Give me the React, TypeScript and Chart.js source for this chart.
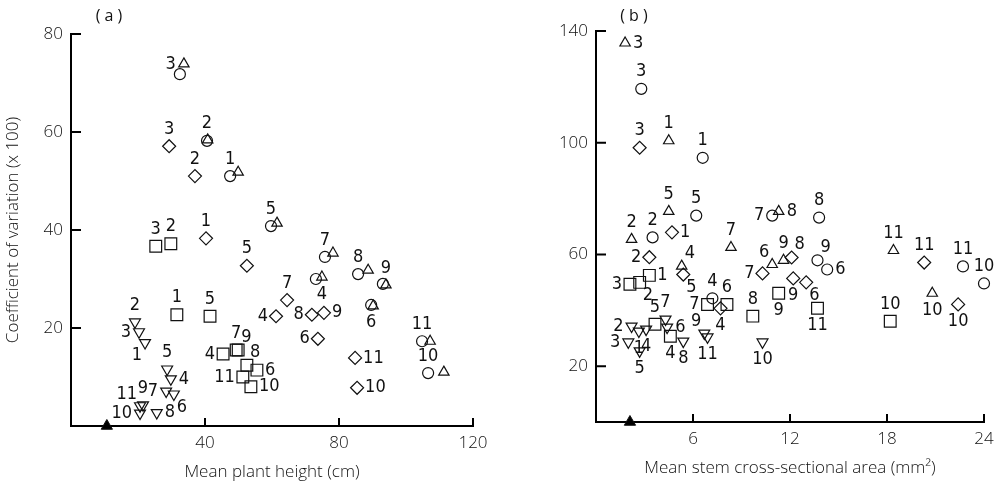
import React, { useEffect, useRef } from 'react';
import { Chart, registerables } from 'chart.js';

Chart.register(...registerables);

// Population numbers (1..11) used as point labels
const IDS = ['1', '2', '3', '4', '5', '6', '7', '8', '9', '10', '11'];

// ---------- Panel (a): coefficient of variation vs mean plant height ----------
const A_CIRCLE_X = [47.5, 40.6, 32.5, 73.1, 59.7, 89.6, 75.8, 85.7, 93.1, 106.6, 104.8];
const A_CIRCLE_Y = [51.0, 58.2, 71.8, 30.0, 40.8, 24.7, 34.5, 31.0, 29.0, 10.8, 17.3];
const A_CIRCLE_POS = ['a', 'a', '', '', 'a', 'b', 'a', 'a', '', 'a', 'a'];

const A_TRI_X = [49.9, 40.8, 33.7, 74.9, 61.5, 90.2, 78.2, 88.7, 94.0, 111.3, 107.2];
const A_TRI_Y = [51.8, 58.4, 73.9, 30.4, 41.4, 24.5, 35.3, 31.8, 28.8, 11.0, 17.3];
const A_TRI_POS = ['', '', 'l', 'b', '', '', '', '', 'a', '', ''];

const A_DIAM_X = [40.3, 37.0, 29.3, 61.2, 52.5, 73.7, 64.5, 71.9, 75.5, 85.4, 84.8];
const A_DIAM_Y = [38.3, 51.0, 57.1, 22.4, 32.7, 17.8, 25.7, 22.7, 23.1, 7.8, 13.9];
const A_DIAM_POS = ['a', 'a', 'a', 'l', 'a', 'l', 'a', 'l', 'r', 'r', 'r'];

const A_SQ_X = [31.6, 29.8, 25.3, 45.4, 41.5, 55.5, 49.3, 52.5, 49.9, 53.7, 51.3];
const A_SQ_Y = [22.7, 37.2, 36.7, 14.7, 22.4, 11.4, 15.5, 12.4, 15.5, 8.0, 10.0];
const A_SQ_POS = ['a', 'a', 'a', 'l', 'a', 'r', 'a', 'ar', 'ar', 'r', 'l'];

const A_INV_X = [22.1, 19.1, 20.3, 29.8, 28.7, 30.7, 28.4, 25.6, 21.5, 20.6, 20.6];
const A_INV_Y = [17.0, 21.2, 19.2, 9.6, 11.6, 6.5, 7.1, 2.7, 4.3, 2.6, 4.1];
const A_INV_POS = ['bl', 'a', 'l', 'r', 'a', 'br', 'l', 'r', 'a', 'l', 'al'];

const A_MARK_X = [10.7];
const A_MARK_Y = [0];

const A_X_TICKS = [40, 80, 120];
const A_Y_TICKS = [20, 40, 60, 80];

// ---------- Panel (b): coefficient of variation vs stem cross-sectional area ----------
const B_CIRCLE_X = [6.6, 3.5, 2.8, 7.2, 6.2, 14.3, 10.9, 13.8, 13.7, 24.0, 22.7];
const B_CIRCLE_Y = [94.6, 66.1, 119.3, 44.3, 73.9, 54.6, 73.9, 73.2, 57.9, 49.6, 55.7];
const B_CIRCLE_POS = ['a', 'a', 'a', 'a', 'a', 'r', 'l', 'a', 'ar', 'a', 'a'];

const B_TRI_X = [4.5, 2.2, 1.8, 5.3, 4.5, 10.9, 8.35, 11.3, 11.6, 20.8, 18.4];
const B_TRI_Y = [100.7, 65.4, 135.7, 55.8, 75.4, 56.4, 62.5, 75.4, 57.9, 46.1, 61.4];
const B_TRI_POS = ['a', 'a', 'r', 'ar', 'a', 'al', 'a', 'r', 'a', 'b', 'a'];

const B_DIAM_X = [4.7, 3.3, 2.7, 7.7, 5.4, 13.0, 10.3, 12.1, 12.2, 22.4, 20.3];
const B_DIAM_Y = [67.9, 59.0, 98.2, 40.7, 52.8, 50.0, 53.2, 58.9, 51.4, 42.1, 57.1];
const B_DIAM_POS = ['r', 'l', 'a', 'b', 'br', 'br', 'l', 'ar', 'b', 'b', 'a'];

const B_SQ_X = [3.3, 2.7, 2.1, 4.6, 3.65, 8.1, 6.9, 9.7, 11.3, 18.2, 13.7];
const B_SQ_Y = [52.5, 50.0, 49.3, 30.7, 35.0, 42.1, 42.1, 37.9, 46.1, 36.1, 40.7];
const B_SQ_POS = ['r', 'br', 'l', 'b', 'a', 'a', 'l', 'a', 'b', 'a', 'b'];

const B_INV_X = [2.65, 2.2, 2.0, 3.1, 2.7, 4.4, 4.3, 5.4, 6.7, 10.3, 6.9];
const B_INV_Y = [32.5, 34.3, 28.6, 33.2, 25.4, 33.9, 36.8, 28.9, 31.8, 28.6, 30.4];
const B_INV_POS = ['b', 'l', 'l', 'b', 'b', 'r', 'a', 'b', 'al', 'b', 'b'];

const B_MARK_X = [2.1];
const B_MARK_Y = [0];

const B_X_TICKS = [6, 12, 18, 24];
const B_Y_TICKS = [20, 60, 100, 140];

const LABEL_FONT = '18px "Liberation Sans Narrow", "DejaVu Sans Condensed", "Liberation Sans", sans-serif';
const AXIS_FAMILY = '"Open Sans", "DejaVu Sans", sans-serif';

type Shape = 'circle' | 'tri' | 'diam' | 'sq' | 'inv' | 'mark';

function makeSet(xs: number[], ys: number[], pos: string[] | null, shape: Shape) {
  const style: any = {
    circle: { pointStyle: 'circle', pointRadius: 5.5, pointRotation: 0 },
    tri: { pointStyle: 'triangle', pointRadius: 6, pointRotation: 0 },
    diam: { pointStyle: 'rectRot', pointRadius: 6.5, pointRotation: 0 },
    sq: { pointStyle: 'rect', pointRadius: 8.3, pointRotation: 0 },
    inv: { pointStyle: 'triangle', pointRadius: 6.3, pointRotation: 180 },
    mark: { pointStyle: 'triangle', pointRadius: 6.5, pointRotation: 0 },
  }[shape];
  return {
    data: xs.map((x, i) => ({ x, y: ys[i] })),
    ...style,
    showLine: false,
    clip: false,
    borderColor: '#111',
    borderWidth: shape === 'mark' ? 1 : 1.2,
    backgroundColor: shape === 'mark' ? '#000' : 'rgba(0,0,0,0)',
    labelPos: pos,
  };
}

const pointLabels = {
  id: 'pointLabels',
  afterDatasetsDraw(chart: any) {
    const ctx = chart.ctx;
    ctx.save();
    ctx.font = LABEL_FONT;
    ctx.fillStyle = '#111';
    ctx.textBaseline = 'middle';
    chart.data.datasets.forEach((ds: any, di: number) => {
      const pos: string[] | null = ds.labelPos;
      if (!pos) return;
      const meta = chart.getDatasetMeta(di);
      meta.data.forEach((el: any, i: number) => {
        const p = pos[i];
        if (!p) return;
        const t = IDS[i];
        let x = el.x;
        let y = el.y;
        let align: CanvasTextAlign = 'center';
        if (p === 'a') { y -= 17; }
        else if (p === 'b') { y += 17; }
        else if (p === 'l') { x -= 8; align = 'right'; }
        else if (p === 'r') { x += 8; align = 'left'; }
        else if (p === 'al') { x -= 3; y -= 12; align = 'right'; }
        else if (p === 'ar') { x += 3; y -= 13; align = 'left'; }
        else if (p === 'bl') { x -= 3; y += 13; align = 'right'; }
        else if (p === 'br') { x += 3; y += 13; align = 'left'; }
        ctx.textAlign = align;
        ctx.fillText(t, x, y);
      });
    });
    ctx.restore();
  },
};

const inwardTicks = {
  id: 'inwardTicks',
  afterDraw(chart: any, _args: any, opts: any) {
    const { ctx, chartArea } = chart;
    const xs = chart.scales.x;
    const ys = chart.scales.y;
    ctx.save();
    ctx.strokeStyle = '#000';
    ctx.lineWidth = 2;
    ctx.beginPath();
    xs.ticks.forEach((t: any) => {
      const px = xs.getPixelForValue(t.value);
      ctx.moveTo(px, chartArea.bottom);
      ctx.lineTo(px, chartArea.bottom - 8);
    });
    ys.ticks.forEach((t: any) => {
      const py = ys.getPixelForValue(t.value);
      ctx.moveTo(chartArea.left, py);
      ctx.lineTo(chartArea.left + 10, py);
    });
    ctx.stroke();
    if (opts && opts.text) {
      ctx.fillStyle = '#111';
      ctx.font = '16px ' + AXIS_FAMILY;
      ctx.textAlign = 'center';
      ctx.textBaseline = 'middle';
      ctx.fillText(opts.text, chartArea.left + 38, 16);
    }
    ctx.restore();
  },
};

function buildConfig(p: {
  sets: any[];
  xMax: number;
  yMax: number;
  xTicks: number[];
  yTicks: number[];
  xTitle: string;
  yTitle: string | null;
  yWidth: number;
  xHeight: number;
  padTop: number;
  padRight: number;
  xTitlePad: number;
  tag: string;
}) {
  return {
    type: 'scatter',
    data: { datasets: p.sets },
    plugins: [pointLabels, inwardTicks],
    options: {
      responsive: false,
      animation: false,
      events: [],
      devicePixelRatio: 1,
      layout: { padding: { top: p.padTop, right: p.padRight, left: 0, bottom: 0 } },
      plugins: {
        legend: { display: false },
        tooltip: { enabled: false },
        inwardTicks: { text: p.tag },
      },
      scales: {
        x: {
          type: 'linear',
          min: 0,
          max: p.xMax,
          afterBuildTicks: (s: any) => { s.ticks = p.xTicks.map((v) => ({ value: v })); },
          afterFit: (s: any) => { s.height = p.xHeight; },
          grid: { display: false, drawTicks: false },
          border: { display: true, color: '#000', width: 2 },
          ticks: { color: '#111', padding: 7, font: { family: AXIS_FAMILY, size: 17, weight: '300' } },
          title: {
            display: true,
            text: p.xTitle,
            color: '#111',
            padding: { top: 0, bottom: p.xTitlePad },
            font: { family: AXIS_FAMILY, size: 17, weight: '300' },
          },
        },
        y: {
          type: 'linear',
          min: 0,
          max: p.yMax,
          afterBuildTicks: (s: any) => { s.ticks = p.yTicks.map((v) => ({ value: v })); },
          afterFit: (s: any) => { s.width = p.yWidth; },
          grid: { display: false, drawTicks: false },
          border: { display: true, color: '#000', width: 2 },
          ticks: { color: '#111', padding: 8, font: { family: AXIS_FAMILY, size: 17, weight: '300' } },
          title: {
            display: !!p.yTitle,
            text: p.yTitle || '',
            color: '#111',
            padding: { top: 3, bottom: 0 },
            font: { family: AXIS_FAMILY, size: 17, weight: '300' },
          },
        },
      },
    },
  } as any;
}

export default function App() {
  const refA = useRef<HTMLCanvasElement | null>(null);
  const refB = useRef<HTMLCanvasElement | null>(null);

  useEffect(() => {
    const chartA = new Chart(
      refA.current as HTMLCanvasElement,
      buildConfig({
        sets: [
          makeSet(A_CIRCLE_X, A_CIRCLE_Y, A_CIRCLE_POS, 'circle'),
          makeSet(A_TRI_X, A_TRI_Y, A_TRI_POS, 'tri'),
          makeSet(A_DIAM_X, A_DIAM_Y, A_DIAM_POS, 'diam'),
          makeSet(A_SQ_X, A_SQ_Y, A_SQ_POS, 'sq'),
          makeSet(A_INV_X, A_INV_Y, A_INV_POS, 'inv'),
          makeSet(A_MARK_X, A_MARK_Y, null, 'mark'),
        ],
        xMax: 120,
        yMax: 80,
        xTicks: A_X_TICKS,
        yTicks: A_Y_TICKS,
        xTitle: 'Mean plant height (cm)',
        yTitle: 'Coefficient of variation (x 100)',
        yWidth: 71,
        xHeight: 58,
        padTop: 34,
        padRight: 27,
        xTitlePad: 2,
        tag: '( a )',
      })
    );
    const chartB = new Chart(
      refB.current as HTMLCanvasElement,
      buildConfig({
        sets: [
          makeSet(B_CIRCLE_X, B_CIRCLE_Y, B_CIRCLE_POS, 'circle'),
          makeSet(B_TRI_X, B_TRI_Y, B_TRI_POS, 'tri'),
          makeSet(B_DIAM_X, B_DIAM_Y, B_DIAM_POS, 'diam'),
          makeSet(B_SQ_X, B_SQ_Y, B_SQ_POS, 'sq'),
          makeSet(B_INV_X, B_INV_Y, B_INV_POS, 'inv'),
          makeSet(B_MARK_X, B_MARK_Y, null, 'mark'),
        ],
        xMax: 24,
        yMax: 140,
        xTicks: B_X_TICKS,
        yTicks: B_Y_TICKS,
        xTitle: 'Mean stem cross-sectional area (mm²)',
        yTitle: null,
        yWidth: 96,
        xHeight: 62,
        padTop: 31,
        padRight: 17,
        xTitlePad: 6,
        tag: '( b )',
      })
    );
    return () => {
      chartA.destroy();
      chartB.destroy();
    };
  }, []);

  return (
    <div style={{ position: 'absolute', left: 0, top: 0, width: 1001, height: 484, background: '#fff' }}>
      <canvas ref={refA} width={500} height={484} style={{ position: 'absolute', left: 0, top: 0 }} />
      <canvas ref={refB} width={501} height={484} style={{ position: 'absolute', left: 500, top: 0 }} />
    </div>
  );
}
